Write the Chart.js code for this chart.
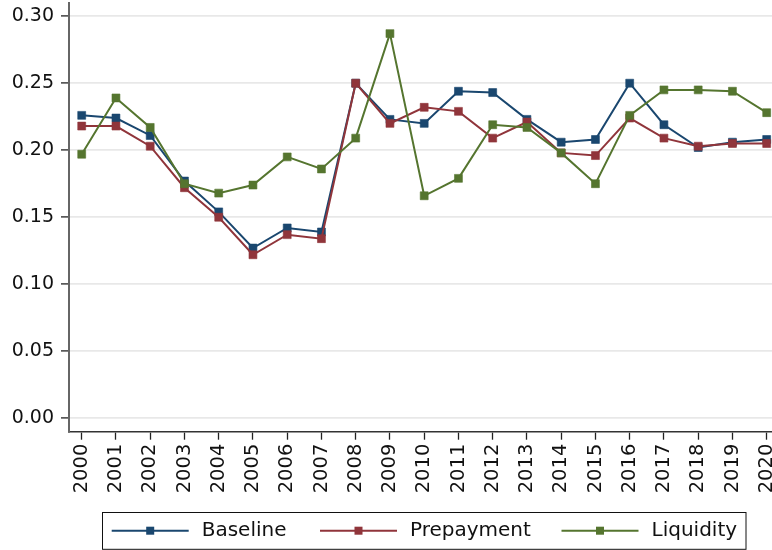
<!DOCTYPE html>
<html>
<head>
<meta charset="utf-8">
<script src="https://cdn.jsdelivr.net/npm/chart.js@4/dist/chart.umd.min.js"></script>
<style>
  html, body { margin: 0; padding: 0; background: #fff; }
  #wrap { width: 772px; height: 550px; position: relative; }
</style>
</head>
<body>
<div id="wrap"><canvas id="c" width="772" height="550"></canvas></div>
<script>
// Years on the horizontal axis
const years = [2000, 2001, 2002, 2003, 2004, 2005, 2006, 2007, 2008, 2009, 2010,
               2011, 2012, 2013, 2014, 2015, 2016, 2017, 2018, 2019, 2020];
const yearLabels = ['2000', '2001', '2002', '2003', '2004', '2005', '2006', '2007', '2008', '2009', '2010',
                    '2011', '2012', '2013', '2014', '2015', '2016', '2017', '2018', '2019', '2020'];

// Series values by year
const baseline   = [0.226, 0.224, 0.211, 0.177, 0.154, 0.127, 0.142, 0.139, 0.250, 0.223, 0.220,
                    0.244, 0.243, 0.223, 0.206, 0.208, 0.250, 0.219, 0.202, 0.206, 0.208];
const prepayment = [0.218, 0.218, 0.203, 0.172, 0.150, 0.122, 0.137, 0.134, 0.250, 0.220, 0.232,
                    0.229, 0.209, 0.221, 0.198, 0.196, 0.224, 0.209, 0.203, 0.205, 0.205];
const liquidity  = [0.197, 0.239, 0.217, 0.175, 0.168, 0.174, 0.195, 0.186, 0.209, 0.287, 0.166,
                    0.179, 0.219, 0.217, 0.198, 0.175, 0.226, 0.245, 0.245, 0.244, 0.228];

// Vertical axis ticks
const yTicks = [0.00, 0.05, 0.10, 0.15, 0.20, 0.25, 0.30];
const yTickLabels = ['0.00', '0.05', '0.10', '0.15', '0.20', '0.25', '0.30'];

const seriesNames = ['Baseline', 'Prepayment', 'Liquidity'];
const seriesColors = ['#1a476f', '#90353b', '#55752f'];

const FONT = "'DejaVu Sans', sans-serif";

function toPoints(values) {
  return values.map((v, i) => ({ x: years[i], y: v }));
}

function makeDataset(idx, values) {
  return {
    label: seriesNames[idx],
    data: toPoints(values),
    borderColor: seriesColors[idx],
    backgroundColor: seriesColors[idx],
    borderWidth: 2,
    pointStyle: 'rect',
    pointRadius: 5.6,
    pointBorderWidth: 0.6,
    pointBorderColor: seriesColors[idx],
    pointBackgroundColor: seriesColors[idx],
    tension: 0,
    order: 3 - idx
  };
}

// Plot region runs from just below the top edge to the right edge of the canvas
const plotFrame = {
  id: 'plotFrame',
  afterLayout(chart) {
    const a = chart.chartArea;
    a.top = 3.3;
    a.right = chart.width;
    a.width = a.right - a.left;
    a.height = a.bottom - a.top;
    const sx = chart.scales.x;
    sx.right = chart.width;
    sx.width = sx.right - sx.left;
    sx.configure();
    const sy = chart.scales.y;
    sy.top = 3.3;
    sy.height = sy.bottom - sy.top;
    sy.configure();
  }
};

// Boxed legend under the axis: line-with-marker samples followed by names
const boxLegend = {
  id: 'boxLegend',
  afterDraw(chart) {
    const ctx = chart.ctx;
    ctx.save();
    ctx.strokeStyle = '#111';
    ctx.lineWidth = 1;
    ctx.strokeRect(102.5, 512.5, 643.5, 36.8);
    const starts = [111.7, 320, 561.5];
    const cy = 530.7;
    chart.data.datasets.forEach((ds, i) => {
      const x0 = starts[i];
      ctx.strokeStyle = ds.borderColor;
      ctx.lineWidth = 2;
      ctx.beginPath();
      ctx.moveTo(x0, cy);
      ctx.lineTo(x0 + 77, cy);
      ctx.stroke();
      ctx.fillStyle = ds.borderColor;
      ctx.fillRect(x0 + 38.5 - 4, cy - 4, 8, 8);
      ctx.fillStyle = '#111';
      ctx.font = '20px ' + FONT;
      ctx.textAlign = 'left';
      ctx.textBaseline = 'middle';
      ctx.fillText(ds.label, x0 + 90, cy);
    });
    ctx.restore();
  }
};

new Chart(document.getElementById('c'), {
  type: 'line',
  data: {
    datasets: [
      makeDataset(0, baseline),
      makeDataset(1, prepayment),
      makeDataset(2, liquidity)
    ]
  },
  options: {
    responsive: false,
    animation: false,
    devicePixelRatio: 1,
    layout: { padding: { top: 3.3, left: 0, right: 0, bottom: 0 } },
    plugins: {
      legend: { display: false },
      tooltip: { enabled: false }
    },
    scales: {
      x: {
        type: 'linear',
        min: 1999.629,
        max: 2020.155,
        afterBuildTicks(scale) {
          scale.ticks = years.map(v => ({ value: v }));
        },
        afterFit(scale) {
          scale.height = 118.3;
          scale.paddingLeft = 0;
          scale.paddingRight = 0;
        },
        ticks: {
          autoSkip: false,
          minRotation: 90,
          maxRotation: 90,
          padding: 4,
          color: '#111',
          font: { family: FONT, size: 19.5 },
          callback(value) {
            const i = years.indexOf(value);
            return i >= 0 ? yearLabels[i] : '';
          }
        },
        grid: {
          drawOnChartArea: false,
          drawTicks: true,
          tickLength: 8,
          tickColor: '#222',
          tickWidth: 1.3
        },
        border: { display: true, color: '#333', width: 1.6 }
      },
      y: {
        type: 'linear',
        min: -0.0100,
        max: 0.3096,
        afterBuildTicks(scale) {
          scale.ticks = yTicks.map(v => ({ value: v }));
        },
        afterFit(scale) {
          scale.width = 69;
          scale.paddingTop = 0;
          scale.paddingBottom = 0;
        },
        ticks: {
          padding: 7,
          color: '#111',
          font: { family: FONT, size: 19 },
          callback(value) {
            const i = yTicks.findIndex(t => Math.abs(t - value) < 1e-9);
            return i >= 0 ? yTickLabels[i] : '';
          }
        },
        grid: {
          color: '#e8e8e8',
          lineWidth: 1.8,
          drawTicks: true,
          tickLength: 8,
          tickColor: '#222',
          tickWidth: 1.3
        },
        border: { display: true, color: '#666', width: 2 }
      }
    }
  },
  plugins: [plotFrame, boxLegend]
});
</script>
</body>
</html>
